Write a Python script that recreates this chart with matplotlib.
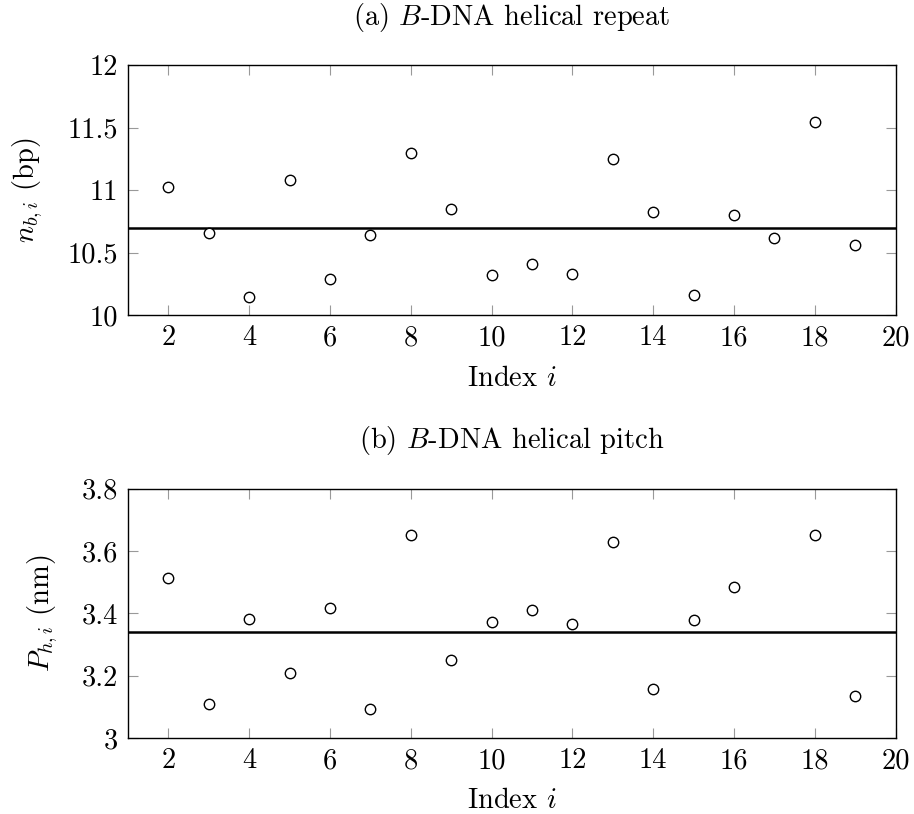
import matplotlib
matplotlib.use("Agg")
import matplotlib.pyplot as plt

plt.rcParams['font.family'] = 'cmr10'
plt.rcParams['mathtext.fontset'] = 'cm'
plt.rcParams['axes.formatter.use_mathtext'] = True

# data
idx_a = [2, 3, 4, 5, 6, 7, 8, 9, 10, 11, 12, 13, 14, 15, 16, 17, 18, 19]
repeat = [11.03, 10.66, 10.15, 11.08, 10.29, 10.64, 11.30, 10.85, 10.32,
          10.41, 10.33, 11.25, 10.83, 10.16, 10.80, 10.62, 11.55, 10.56]
repeat_mean = 10.70

idx_b = [2, 3, 4, 5, 6, 7, 8, 9, 10, 11, 12, 13, 14, 15, 16, 18, 19]
pitch = [3.512, 3.110, 3.383, 3.209, 3.416, 3.092, 3.651, 3.249, 3.371,
         3.411, 3.365, 3.630, 3.158, 3.379, 3.484, 3.651, 3.136]
pitch_mean = 3.341

xticks = [2, 4, 6, 8, 10, 12, 14, 16, 18, 20]
yticks_a = [10, 10.5, 11, 11.5, 12]
yticks_b = [3, 3.2, 3.4, 3.6, 3.8]

fs = 20.5

fig = plt.figure(figsize=(9.14, 8.14), dpi=100)
ax1 = fig.add_axes([0.140, 0.6127, 0.840, 0.3071])
ax2 = fig.add_axes([0.140, 0.0934, 0.840, 0.3063])


def style(ax, x, y, mean, yticks, ylabels, ylabel, title):
    ax.plot(x, y, 'o', mfc='white', mec='black', ms=7.5, mew=1.0, zorder=3)
    ax.axhline(mean, color='black', lw=1.8, zorder=2)
    ax.set_xlim(1, 20)
    ax.set_ylim(yticks[0], yticks[-1])
    ax.set_xticks(xticks)
    ax.set_xticklabels([str(t) for t in xticks])
    ax.set_yticks(yticks)
    ax.set_yticklabels(ylabels)
    ax.tick_params(direction='in', length=7.5, width=0.8, color='#999999',
                   top=True, right=True, labelsize=fs, pad=7)
    for s in ax.spines.values():
        s.set_linewidth(1.0)
    ax.set_xlabel('Index $i$', fontsize=fs, labelpad=10)
    ax.set_ylabel(ylabel, fontsize=fs, labelpad=16)
    ax.set_title(title, fontsize=fs, pad=29)


style(ax1, idx_a, repeat, repeat_mean, yticks_a,
      ['10', '10.5', '11', '11.5', '12'], r'$n_{b,i}$ (bp)',
      r'(a) $B$-DNA helical repeat')
style(ax2, idx_b, pitch, pitch_mean, yticks_b,
      ['3', '3.2', '3.4', '3.6', '3.8'], r'$P_{h,i}$ (nm)',
      r'(b) $B$-DNA helical pitch')

fig.savefig('out.png', dpi=100)
